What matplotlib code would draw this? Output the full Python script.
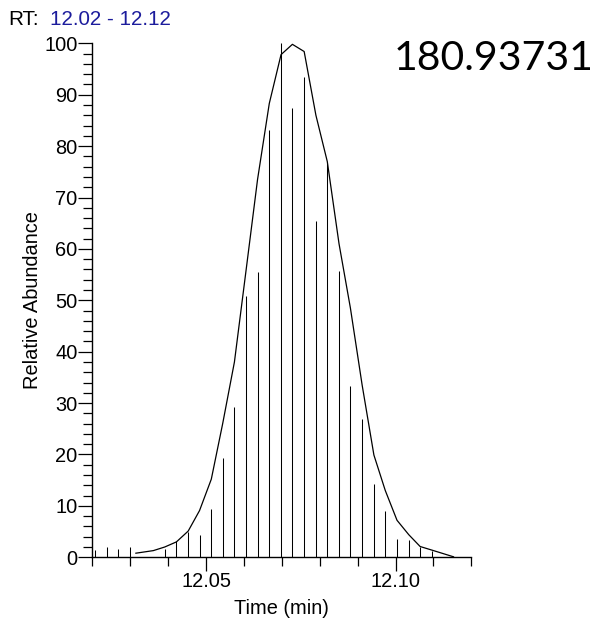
import matplotlib
matplotlib.use("Agg")
import matplotlib.pyplot as plt

# ---- data ----
stick_times = [12.0207, 12.0238, 12.0269, 12.0299,
               12.0391, 12.0422, 12.0453, 12.0483, 12.0514, 12.0544,
               12.0575, 12.0606, 12.0636, 12.0667, 12.0698, 12.0728,
               12.0759, 12.0790, 12.0820, 12.0851, 12.0881, 12.0912,
               12.0943, 12.0973, 12.1004, 12.1035, 12.1065, 12.1096]
stick_values = [1.5, 2.0, 1.7, 2.0,
                1.7, 3.2, 4.9, 4.4, 9.3, 19.4,
                29.2, 50.9, 55.6, 83.2, 100.0, 87.5,
                93.4, 65.4, 76.7, 55.7, 33.3, 27.0,
                14.3, 9.0, 3.6, 3.4, 2.0, 1.2]

curve_times = [12.0315, 12.0361, 12.0391, 12.0422, 12.0453, 12.0483, 12.0514,
               12.0544, 12.0575, 12.0606, 12.0636, 12.0667, 12.0698, 12.0728,
               12.0759, 12.0790, 12.0820, 12.0851, 12.0881, 12.0912, 12.0943,
               12.0973, 12.1004, 12.1035, 12.1065, 12.1096, 12.1153]
curve_values = [0.8, 1.3, 2.0, 3.0, 5.1, 9.1, 15.2,
                26.0, 38.0, 56.0, 73.5, 88.3, 97.8, 99.8,
                98.4, 86.0, 77.0, 61.0, 48.5, 33.5, 19.9,
                13.0, 7.2, 4.4, 2.1, 1.4, 0.1]

x_major = [12.05, 12.10]
x_major_labels = ["12.05", "12.10"]
x_minor = [12.02, 12.03, 12.04, 12.06, 12.07, 12.08, 12.09, 12.11, 12.12]
y_major = [0, 10, 20, 30, 40, 50, 60, 70, 80, 90, 100]
y_minor = list(range(0, 101, 2))

mass_label = "180.93731"
rt_prefix = "RT:"
rt_range = "12.02 - 12.12"

# ---- figure ----
W, H = 598, 622
fig = plt.figure(figsize=(W / 100, H / 100), dpi=100)
plt.rcParams['font.family'] = ['Liberation Sans', 'DejaVu Sans']

ax = fig.add_axes([92.3 / W, 1 - 557.3 / H, 379 / W, 514 / H])
ax.set_xlim(12.02, 12.12)
ax.set_ylim(0, 100)

ax.vlines(stick_times, 0, stick_values, colors='black', linewidth=0.75, clip_on=False)
ax.plot(curve_times, curve_values, color='black', linewidth=0.9, clip_on=False)

for s in ['top', 'right']:
    ax.spines[s].set_visible(False)
for s in ['left', 'bottom']:
    ax.spines[s].set_linewidth(1.0)

ax.set_xticks(x_major)
ax.set_xticklabels(x_major_labels)
ax.set_xticks(x_minor, minor=True)
ax.set_yticks(y_major)
ax.set_yticks(y_minor, minor=True)

fs = 14.4
ax.tick_params(axis='both', which='major', direction='out', length=9.8, width=0.9,
               labelsize=fs, color='black')
ax.tick_params(axis='both', which='minor', direction='out', length=6.2, width=0.9,
               color='black')
ax.tick_params(axis='y', which='major', pad=0.8)
ax.tick_params(axis='x', which='major', pad=1.0)

fig.text(33 / W, 1 - 300 / H, "Relative Abundance", rotation=90,
         ha='center', va='center', fontsize=fs)
fig.text(281 / W, 1 - 609 / H, "Time (min)", ha='center', va='center', fontsize=fs)

fs_rt = 14.9
fig.text(8.5 / W, 1 - 25 / H, rt_prefix, ha='left', va='baseline', fontsize=fs_rt, color='black')
fig.text(49.5 / W, 1 - 25 / H, rt_range, ha='left', va='baseline', fontsize=fs_rt, color='#1c1c9c')

fig.text(593.3 / W, 1 - 70 / H, mass_label, ha='right', va='baseline', fontsize=29.5,
         family=['Lato', 'DejaVu Sans'], color='black')

fig.savefig("out.png", dpi=100)
